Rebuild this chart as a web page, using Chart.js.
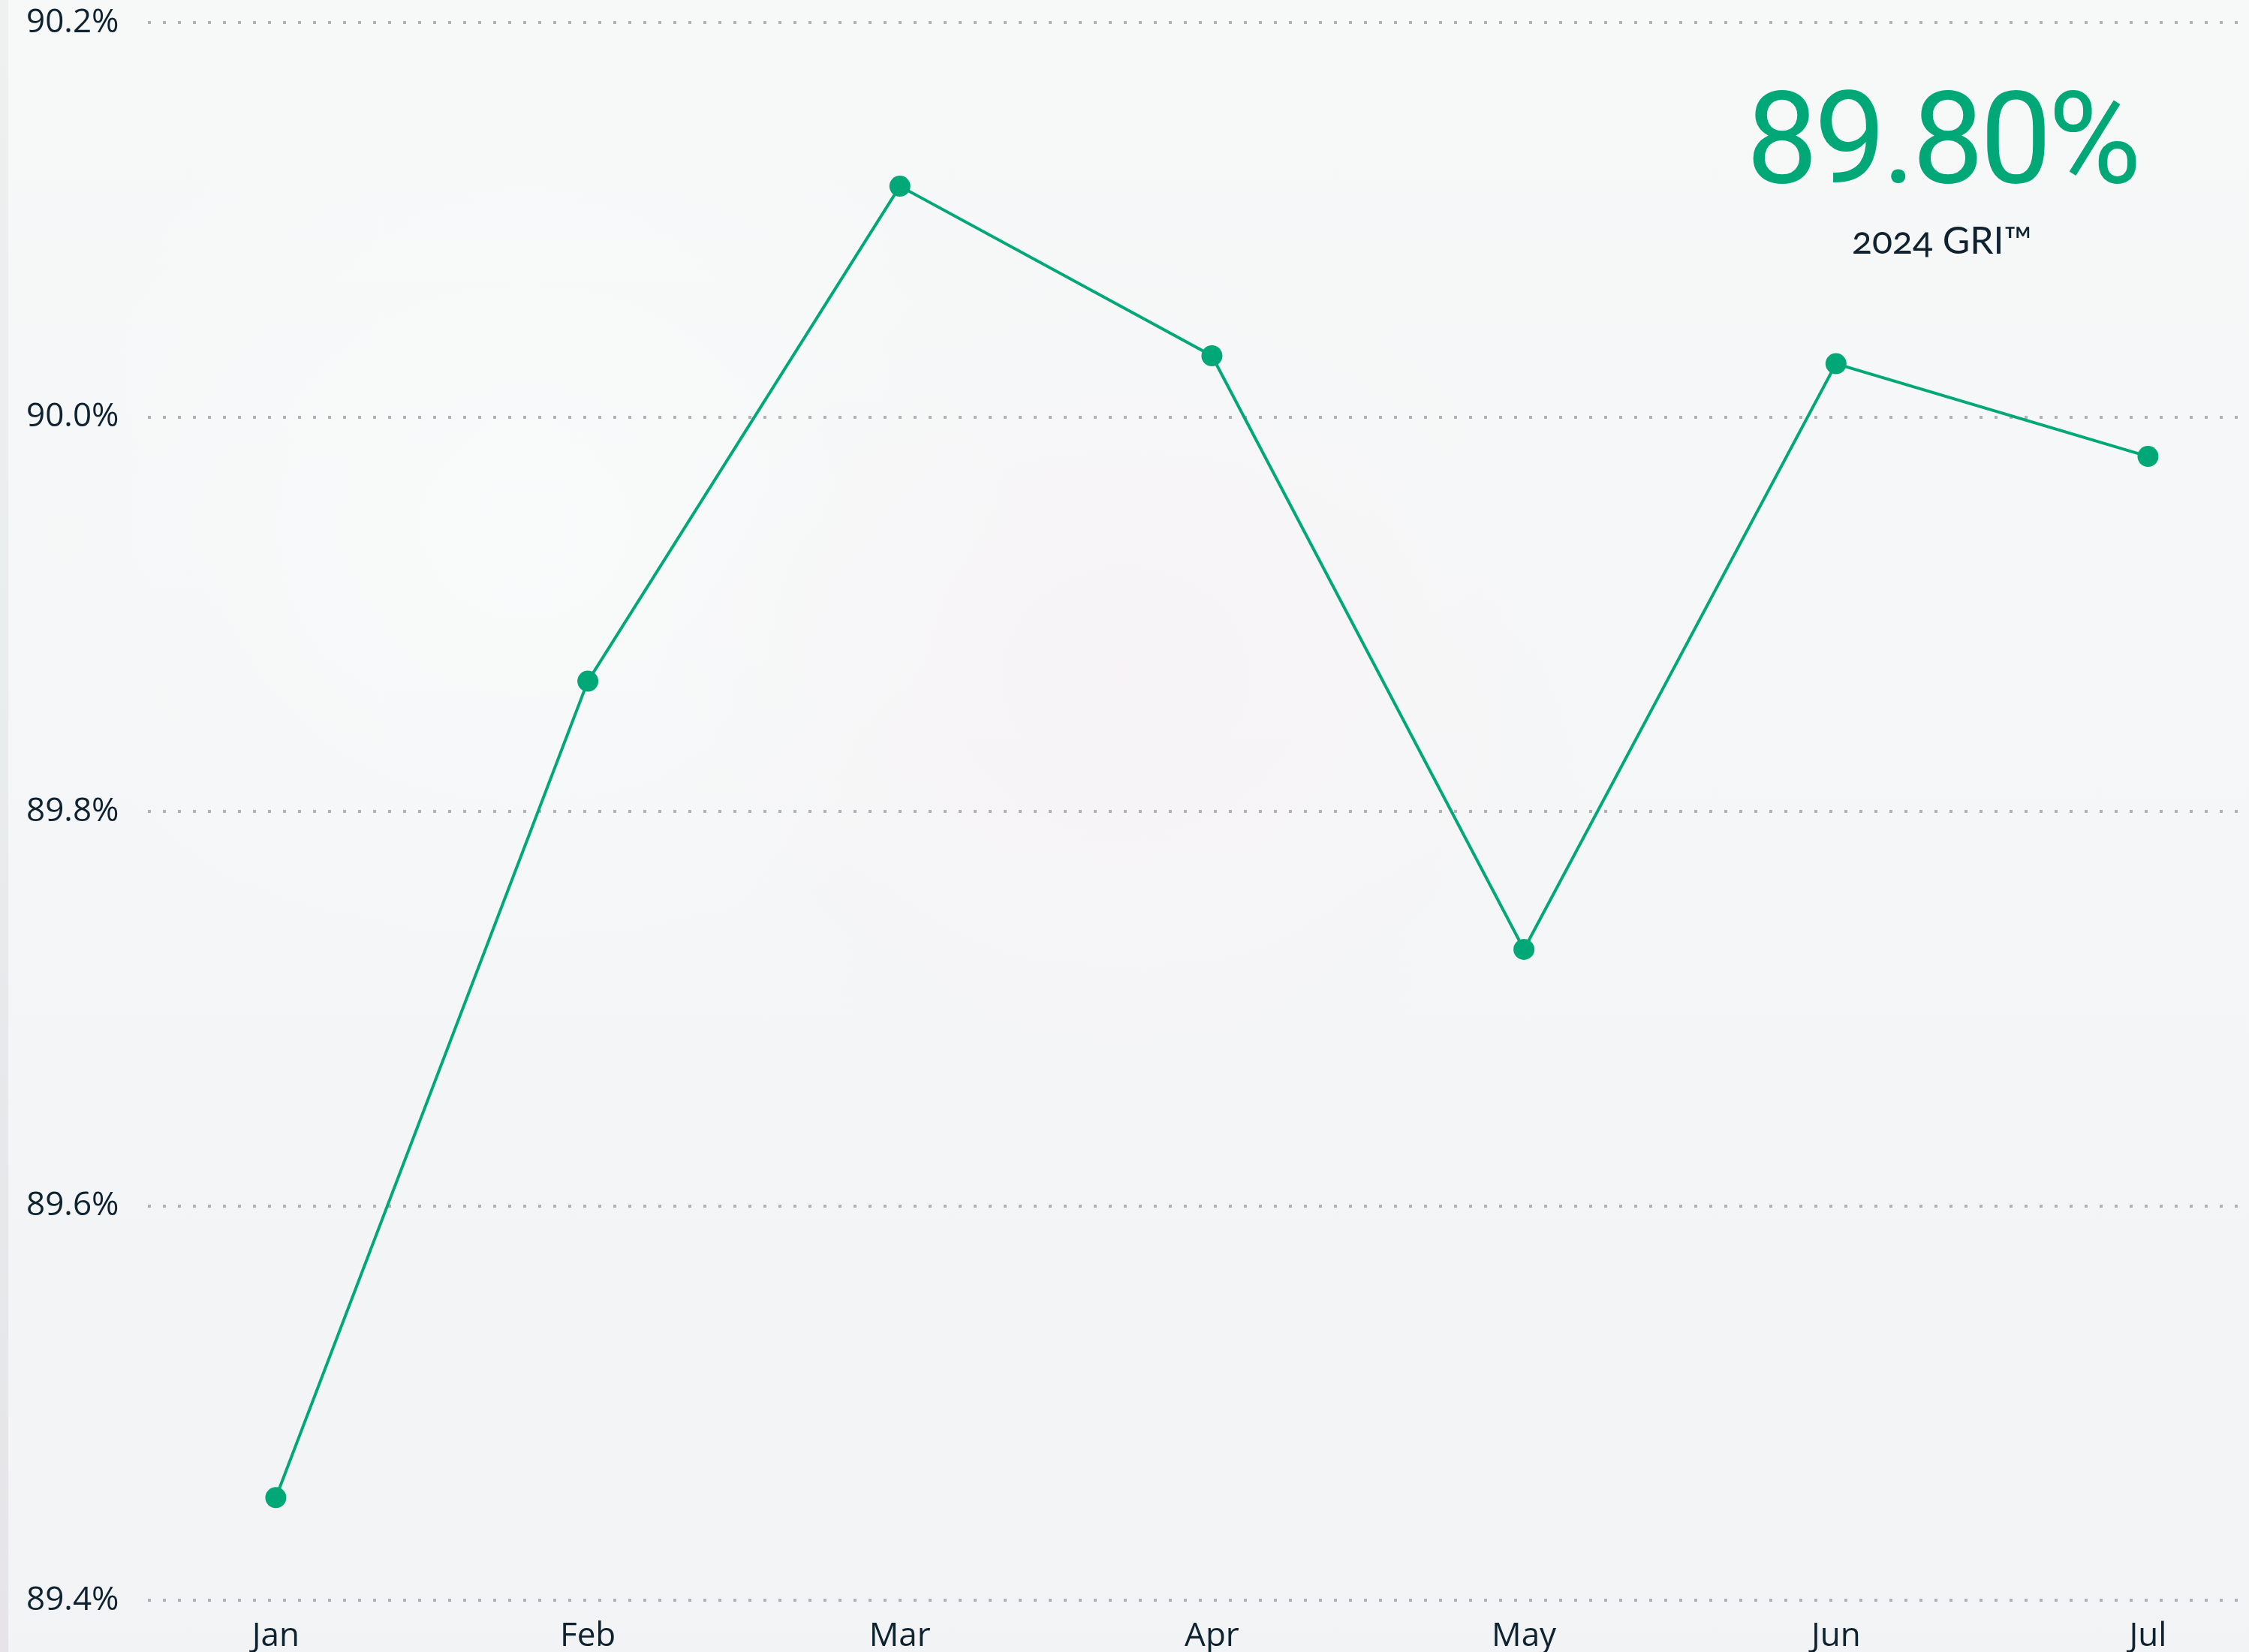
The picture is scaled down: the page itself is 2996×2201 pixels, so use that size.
<!DOCTYPE html>
<html>
<head>
<meta charset="utf-8">
<script src="https://cdn.jsdelivr.net/npm/chart.js@4/dist/chart.umd.min.js"></script>
<style>
  html, body { margin: 0; padding: 0; overflow: hidden; }
  body {
    width: 2996px; height: 2201px; position: relative;
    background:
      radial-gradient(ellipse 900px 800px at 1500px 900px, rgba(247,243,246,0.9), rgba(247,243,246,0) 70%),
      radial-gradient(ellipse 1000px 900px at 700px 700px, rgba(249,251,251,0.9), rgba(249,251,251,0) 70%),
      linear-gradient(180deg, #f7f9f9 0%, #f5f6f7 50%, #f2f3f4 100%);
  }
  #strip { position: absolute; left: 0; top: 0; width: 11px; height: 2201px;
    background: linear-gradient(180deg, #eff0f0 0%, #e8eded 40%, #e6e8ea 75%, #e6e4e8 100%); }
  #wrap { position: absolute; left: 0; top: 0; width: 2996px; height: 2201px; }
  #headline { position: absolute; left: 2287px; width: 600px; top: 100px; text-align: center;
    font-family: Roboto, sans-serif; font-weight: 400; font-size: 170px; line-height: 1;
    color: #00a877; letter-spacing: -5px; white-space: nowrap; }
  #sub { position: absolute; left: 2387px; width: 400px; top: 294px; text-align: center;
    font-family: Lato, "Open Sans", sans-serif; font-size: 50px; line-height: 1;
    font-feature-settings: "onum" 1; font-variant-numeric: oldstyle-nums;
    color: #0e2230; white-space: nowrap; }
</style>
</head>
<body>
<div id="strip"></div>
<div id="wrap"><canvas id="c"></canvas></div>
<div id="headline"></div>
<div id="sub"></div>
<script>
const months = ['Jan', 'Feb', 'Mar', 'Apr', 'May', 'Jun', 'Jul'];
const griValues = [89.452, 89.866, 90.117, 90.031, 89.730, 90.027, 89.980];
const yTickValues = [89.4, 89.6, 89.8, 90.0, 90.2];
const headlineValue = '89.80%';
const headlineLabel = '2024 GRI\u2122';

document.getElementById('headline').textContent = headlineValue;
document.getElementById('sub').textContent = headlineLabel;

const green = '#00a877';
const textColor = '#0e2230';
const tickFont = { family: '"Open Sans", sans-serif', size: 44 };

new Chart(document.getElementById('c'), {
  type: 'line',
  data: {
    datasets: [{
      data: griValues.map((v, i) => ({ x: i, y: v })),
      borderColor: green,
      backgroundColor: green,
      borderWidth: 4,
      pointRadius: 14,
      pointHoverRadius: 14,
      pointBorderWidth: 0,
      pointBackgroundColor: green,
      tension: 0,
      fill: false
    }]
  },
  options: {
    responsive: true,
    maintainAspectRatio: false,
    animation: false,
    layout: { padding: { left: 35, top: 30, right: 6, bottom: 0 } },
    plugins: { legend: { display: false }, tooltip: { enabled: false } },
    scales: {
      x: {
        type: 'linear',
        min: -0.41,
        max: 6.29,
        afterBuildTicks: (s) => { s.ticks = months.map((_, i) => ({ value: i })); },
        afterFit: (s) => { s.height = 69; },
        grid: { display: false, drawTicks: false },
        border: { display: false },
        ticks: {
          autoSkip: false, maxRotation: 0, minRotation: 0, padding: 22,
          color: textColor, font: tickFont,
          callback: (v) => months[v] ?? ''
        }
      },
      y: {
        min: 89.4,
        max: 90.2,
        afterBuildTicks: (s) => { s.ticks = yTickValues.map(v => ({ value: v })); },
        afterFit: (s) => { s.width = 162; },
        grid: { color: 'rgba(165,165,170,0.85)', lineWidth: 4, drawTicks: false, borderDash: [4, 16] },
        border: { display: false, dash: [4, 16] },
        ticks: {
          crossAlign: 'far', padding: 0,
          color: textColor, font: tickFont,
          callback: (v) => Number(v).toFixed(1) + '%'
        }
      }
    }
  }
});
</script>
</body>
</html>
